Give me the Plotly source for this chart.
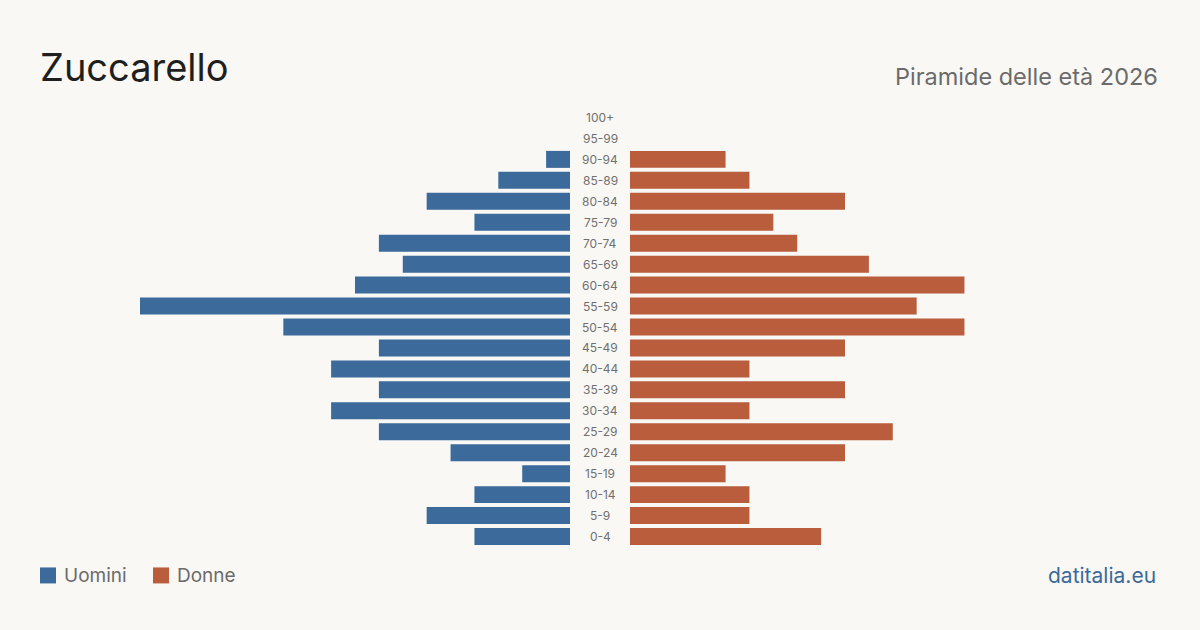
import plotly.graph_objects as go

ages = ["0-4", "5-9", "10-14", "15-19", "20-24", "25-29", "30-34", "35-39", "40-44",
        "45-49", "50-54", "55-59", "60-64", "65-69", "70-74", "75-79", "80-84",
        "85-89", "90-94", "95-99", "100+"]
uomini = [4, 6, 4, 2, 5, 8, 10, 8, 10, 8, 12, 18, 9, 7, 8, 4, 6, 3, 1, 0, 0]
donne = [8, 5, 5, 4, 9, 11, 5, 9, 5, 9, 14, 12, 14, 10, 7, 6, 9, 5, 4, 0, 0]

title = "Zuccarello"
subtitle = "Piramide delle età 2026"
source = "datitalia.eu"

BLUE = "#3b6a9b"
ORANGE = "#b95d3d"
BG = "#f9f8f4"
FONT = "Inter"

W, H = 1200, 630
MT, MB = 106.5, 82.5
PH = H - MT - MB
vmax = max(max(uomini), max(donne))


def px(x):
    return x / W


def py(y):
    return (H - MB - y) / PH


fig = go.Figure()
fig.add_trace(go.Bar(y=ages, x=uomini, orientation="h", marker=dict(color=BLUE, line=dict(width=0)),
                     name="Uomini", xaxis="x", yaxis="y", showlegend=False,
                     hovertemplate="%{y}: %{x}<extra>Uomini</extra>"))
fig.add_trace(go.Bar(y=ages, x=donne, orientation="h", marker=dict(color=ORANGE, line=dict(width=0)),
                     name="Donne", xaxis="x2", yaxis="y", showlegend=False,
                     hovertemplate="%{y}: %{x}<extra>Donne</extra>"))

annotations = []
for a in ages:
    annotations.append(dict(x=0.5, xref="paper", y=a, yref="y", text=a, showarrow=False,
                            font=dict(family=FONT, size=12, color="#707070"),
                            xanchor="center", yanchor="middle"))

annotations += [
    dict(x=px(38), y=py(66), xref="paper", yref="paper", text=title, showarrow=False,
         xanchor="left", yanchor="middle", font=dict(family=FONT, size=38, color="#1f1f1f")),
    dict(x=px(1160), y=py(76), xref="paper", yref="paper", text=subtitle, showarrow=False,
         xanchor="right", yanchor="middle", font=dict(family=FONT, size=23.5, color="#6b6b6b")),
    dict(x=px(1158), y=py(576), xref="paper", yref="paper", text=source, showarrow=False,
         xanchor="right", yanchor="middle", font=dict(family=FONT, size=21, color=BLUE)),
    dict(x=px(62), y=py(576), xref="paper", yref="paper", text="Uomini", showarrow=False,
         xanchor="left", yanchor="middle", font=dict(family=FONT, size=19, color="#6b6b6b")),
    dict(x=px(175), y=py(576), xref="paper", yref="paper", text="Donne", showarrow=False,
         xanchor="left", yanchor="middle", font=dict(family=FONT, size=19, color="#6b6b6b")),
]

shapes = [
    dict(type="rect", xref="paper", yref="paper", x0=px(40), x1=px(56),
         y0=py(584), y1=py(568), fillcolor=BLUE, line_width=0),
    dict(type="rect", xref="paper", yref="paper", x0=px(153), x1=px(169),
         y0=py(584), y1=py(568), fillcolor=ORANGE, line_width=0),
]

fig.update_layout(
    width=W, height=H,
    paper_bgcolor=BG, plot_bgcolor=BG,
    margin=dict(l=0, r=0, t=MT, b=MB),
    bargap=0.19,
    xaxis=dict(domain=[px(140), px(570)], range=[vmax, 0], visible=False, fixedrange=True),
    xaxis2=dict(domain=[px(630), px(1060)], range=[0, vmax], visible=False, fixedrange=True),
    yaxis=dict(visible=False, categoryorder="array", categoryarray=ages,
               range=[-0.5, len(ages) - 0.5], fixedrange=True),
    annotations=annotations,
    shapes=shapes,
    showlegend=False,
)

fig.write_html("out.html")
